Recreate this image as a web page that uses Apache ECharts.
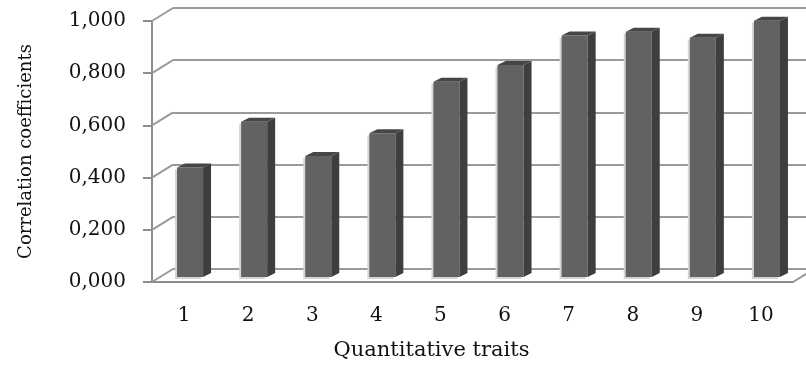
<!DOCTYPE html>
<html>
<head>
<meta charset="utf-8">
<title>Correlation coefficients</title>
<script src="https://cdn.jsdelivr.net/npm/echarts@6.0.0/dist/echarts.min.js"></script>
<style>
  html, body { margin: 0; padding: 0; background: #fff; }
  #chart { width: 806px; height: 371px; }
</style>
</head>
<body>
<div id="chart"></div>
<script>
  // values
  const traits = ['1', '2', '3', '4', '5', '6', '7', '8', '9', '10'];
  const coefficients = [0.420, 0.595, 0.464, 0.551, 0.748, 0.812, 0.925, 0.940, 0.917, 0.982];
  const yTicks = [0, 0.2, 0.4, 0.6, 0.8, 1.0];

  // 3d look: back wall is shifted from the front axes
  const wallDx = 21, wallDy = 13;
  const barDx = 8, barDy = 4;

  const chart = echarts.init(document.getElementById('chart'));

  const font = 'DejaVu Serif';
  const gridColor = '#9a9a9a';

  function renderBar(params, api) {
    let base = api.coord([api.value(0), 0]);
    let top = api.coord([api.value(0), api.value(1)]);
    let w = api.size([1, 0])[0] * 0.406;
    let x0 = base[0] - w / 2 + 6;
    let yb = base[1] - 5;
    let yt = top[1] - 5;
    return {
      type: 'group',
      children: [
        {type: 'rect', shape: {x: x0 - 2, y: yt + 2, width: w, height: yb - yt}, style: {fill: '#d4d4d4'}},
        {type: 'rect', shape: {x: x0, y: yt, width: w, height: yb - yt}, style: {fill: '#626262'}},
        {type: 'polygon', shape: {points: [[x0 + w, yt], [x0 + w + barDx, yt - barDy], [x0 + w + barDx, yb - barDy], [x0 + w, yb]]}, style: {fill: '#3e3e3e'}},
        {type: 'polygon', shape: {points: [[x0, yt], [x0 + barDx, yt - barDy], [x0 + w + barDx, yt - barDy], [x0 + w, yt]]}, style: {fill: '#464646'}}
      ]
    };
  }

  // slanted lines joining the front axis to the back wall
  function renderWallLink(params, api) {
    let cs = params.coordSys;
    let y = api.coord([0, api.value(1)])[1];
    let lines = [{
      type: 'line',
      shape: {x1: cs.x, y1: y, x2: cs.x + wallDx, y2: y - wallDy},
      style: {stroke: gridColor, lineWidth: 2}
    }];
    if (api.value(1) === 0) {
      lines.push({
        type: 'line',
        shape: {x1: cs.x + cs.width, y1: y, x2: cs.x + cs.width + wallDx, y2: y - wallDy},
        style: {stroke: gridColor, lineWidth: 2}
      });
    }
    return {type: 'group', children: lines};
  }

  let option = {
    animation: false,
    backgroundColor: '#fff',
    grid: [
      {left: 152 + wallDx, top: 21 - wallDy, width: 660, height: 261},
      {left: 152, top: 21, width: 641, height: 261}
    ],
    xAxis: [
      {gridIndex: 0, type: 'category', data: traits, show: false},
      {
        gridIndex: 1,
        type: 'category',
        data: traits,
        axisLine: {lineStyle: {color: '#8c8c8c', width: 2}},
        axisTick: {length: 7, lineStyle: {color: '#8c8c8c', width: 2}},
        axisLabel: {margin: 24, color: '#111', fontFamily: font, fontSize: 20},
        name: 'Quantitative traits',
        nameLocation: 'middle',
        nameGap: 58,
        nameTextStyle: {color: '#111', fontFamily: font, fontSize: 21, padding: [0, 82, 0, 0]}
      }
    ],
    yAxis: [
      {
        gridIndex: 0,
        type: 'value',
        min: 0, max: 1, interval: 0.2,
        axisLine: {show: false},
        axisTick: {show: false},
        axisLabel: {show: false},
        splitLine: {lineStyle: {color: gridColor, width: 2}}
      },
      {
        gridIndex: 1,
        type: 'value',
        min: 0, max: 1, interval: 0.2,
        splitLine: {show: false},
        axisLine: {show: true, lineStyle: {color: '#8c8c8c', width: 2}},
        axisTick: {show: true, length: 9, lineStyle: {color: '#8c8c8c', width: 2}},
        axisLabel: {
          margin: 26,
          color: '#111',
          fontFamily: font,
          fontSize: 20,
          formatter: v => v.toFixed(3).replace('.', ',')
        },
        name: 'Correlation coefficients',
        nameLocation: 'middle',
        nameGap: 117,
        nameTextStyle: {color: '#111', fontFamily: font, fontSize: 18}
      }
    ],
    series: [
      {
        type: 'custom',
        xAxisIndex: 1,
        yAxisIndex: 1,
        renderItem: renderWallLink,
        data: yTicks.map(v => [0, v]),
        z: 1
      },
      {
        type: 'custom',
        xAxisIndex: 1,
        yAxisIndex: 1,
        renderItem: renderBar,
        data: coefficients.map((v, i) => [i, v]),
        z: 3
      }
    ]
  };

  chart.setOption(option);
</script>
</body>
</html>
